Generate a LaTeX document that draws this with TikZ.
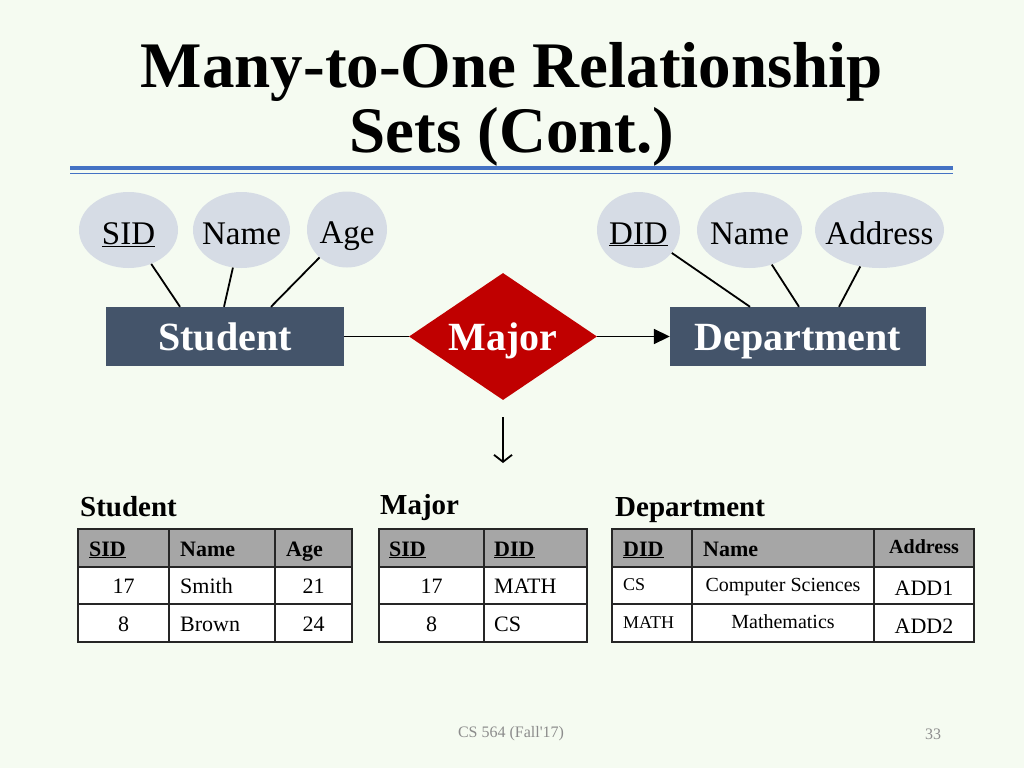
\documentclass[tikz,border=0pt]{standalone}
\usepackage{fontspec}
\setmainfont{Liberation Serif}
\usetikzlibrary{shapes.geometric, arrows.meta}
\definecolor{slidebg}{HTML}{F5FBF1}
\definecolor{rulebl}{HTML}{4472C4}
\definecolor{entfill}{HTML}{44546A}
\definecolor{relred}{HTML}{C00000}
\definecolor{attrfill}{HTML}{D6DCE5}
\definecolor{hdrgray}{HTML}{A6A6A6}
\definecolor{footgray}{HTML}{8C8C8C}
\newcommand{\fsz}[1]{\fontsize{#1}{#1}\selectfont}
\newcommand{\att}[1]{\makebox[0pt]{#1}}
\tikzset{
  entity/.style={fill=entfill, text=white, font=\fsz{40}\bfseries, inner sep=0, minimum height=59, text height=33, text depth=6},
  attr/.style={ellipse, fill=attrfill, inner sep=0, minimum height=76, font=\fsz{33}, text height=28, text depth=0},
  link/.style={line width=1.8pt},
  tbl/.style={line width=1.8pt, draw=black!85},
  cell/.style={anchor=base west, inner sep=0, font=\fsz{22}},
  ccell/.style={anchor=base, inner sep=0, font=\fsz{22}},
  hcell/.style={anchor=base west, inner sep=0, font=\fsz{22}\bfseries},
  tlabel/.style={anchor=base west, inner sep=0, font=\fsz{29}\bfseries}
}
\begin{document}
\begin{tikzpicture}[x=1pt,y=-1pt]
            \fill[slidebg] (0,0) rectangle (1024,768);
            \useasboundingbox (0,0) rectangle (1024,768);

            % title
            \node[anchor=base, inner sep=0, font=\fsz{65}\bfseries] (title1) at (512,87) {Many-to-One Relationship};
            \node[anchor=base, inner sep=0, font=\fsz{65}\bfseries] (title2) at (512,152) {Sets (Cont.)};
            \draw[rulebl, line width=4pt] (70,168) -- (953,168);
            \draw[rulebl, line width=1.5pt] (70,173.5) -- (953,173.5);

            % ER diagram
            \node[entity, minimum width=238] (stu) at (225,336.5) {Student};
            \node[entity, minimum width=256] (dept) at (798,336.5) {Department};
            \node[diamond, aspect=1.48, fill=relred, text=white, inner sep=0, minimum width=188, minimum height=127, text height=33, text depth=6, font=\fsz{40}\bfseries] (maj) at (503,336.5) {Major};

            \node[attr, minimum width=99] (sid) at (128.5,230) {\att{\underline{SID}}};
            \node[attr, minimum width=97] (sname) at (241.5,230) {\att{Name}};
            \node[attr, minimum width=80] (age) at (347,229.5) {\att{Age}};
            \node[attr, minimum width=83] (did) at (638.5,230) {\att{\underline{DID}}};
            \node[attr, minimum width=105] (dname) at (749.5,230) {\att{Name}};
            \node[attr, minimum width=129] (addr) at (879.5,230) {\att{Address}};

            \draw[link] (sid) -- ([xshift=-45]stu.north);
            \draw[link] (sname) -- ([xshift=-1]stu.north);
            \draw[link] (age) -- ([xshift=46]stu.north);
            \draw[link] (did) -- ([xshift=-48]dept.north);
            \draw[link] (dname) -- ([xshift=1]dept.north);
            \draw[link] (addr) -- ([xshift=41]dept.north);

            \draw[link] (stu) -- (maj);
            \draw[link, -{Triangle[length=16pt, width=15pt]}] (maj) -- (dept);

            \coordinate (dtop) at (503,417);
            \coordinate (dbot) at (503,463);
            \draw[link, -{Straight Barb[length=7pt, width=18pt]}] (dtop) -- (dbot);

            % Student table
            \node[tlabel] (stulbl) at (80,516) {Student};
            \fill[hdrgray] (78,529) rectangle (352,567);
            \fill[white] (78,567) rectangle (352,642);
            \draw[tbl] (78,529) rectangle (352,642);
            \foreach \y in {567,604} \draw[tbl] (78,\y) -- (352,\y);
            \foreach \x in {169,275} \draw[tbl] (\x,529) -- (\x,642);
            \node[hcell] (s11) at (89,556) {\underline{SID}};
            \node[hcell] (s12) at (180,556) {Name};
            \node[hcell] (s13) at (286,556) {Age};
            \node[ccell] (s21) at (123.5,593.5) {17};
            \node[cell] (s22) at (180,593.5) {Smith};
            \node[ccell] (s23) at (313.5,593.5) {21};
            \node[ccell] (s31) at (123.5,631) {8};
            \node[cell] (s32) at (180,631) {Brown};
            \node[ccell] (s33) at (313.5,631) {24};

            % Major table
            \node[tlabel] (majlbl) at (380,514) {Major};
            \fill[hdrgray] (379,529) rectangle (587,567);
            \fill[white] (379,567) rectangle (587,642);
            \draw[tbl] (379,529) rectangle (587,642);
            \foreach \y in {567,604} \draw[tbl] (379,\y) -- (587,\y);
            \draw[tbl] (484,529) -- (484,642);
            \node[hcell] (m11) at (389,556) {\underline{SID}};
            \node[hcell] (m12) at (494,556) {\underline{DID}};
            \node[ccell] (m21) at (431.5,593.5) {17};
            \node[cell] (m22) at (494,593.5) {MATH};
            \node[ccell] (m31) at (431.5,631) {8};
            \node[cell] (m32) at (494,631) {CS};

            % Department table
            \node[tlabel] (deptlbl) at (615,516) {Department};
            \fill[hdrgray] (612,529) rectangle (974,567);
            \fill[white] (612,567) rectangle (974,642);
            \draw[tbl] (612,529) rectangle (974,642);
            \foreach \y in {567,604} \draw[tbl] (612,\y) -- (974,\y);
            \foreach \x in {692,874} \draw[tbl] (\x,529) -- (\x,642);
            \node[hcell] (d11) at (623,556) {\underline{DID}};
            \node[hcell] (d12) at (703,556) {Name};
            \node[ccell, font=\fsz{20}\bfseries] (d13) at (924,553) {Address};
            \node[cell, font=\fsz{18}] (d21) at (623,590) {CS};
            \node[ccell, font=\fsz{20}] (d22) at (783,591) {Computer Sciences};
            \node[ccell, font=\fsz{22}] (d23) at (924,595) {ADD1};
            \node[cell, font=\fsz{18}] (d31) at (623,628) {MATH};
            \node[ccell, font=\fsz{20}] (d32) at (783,628) {Mathematics};
            \node[ccell, font=\fsz{22}] (d33) at (924,633) {ADD2};

            % footer
            \node[text=footgray, font=\fsz{16}] (foot) at (511,734) {CS 564 (Fall\textquotesingle17)};
            \node[text=footgray, font=\fsz{16}] (pgno) at (933,734) {33};
        \end{tikzpicture}
\end{document}
